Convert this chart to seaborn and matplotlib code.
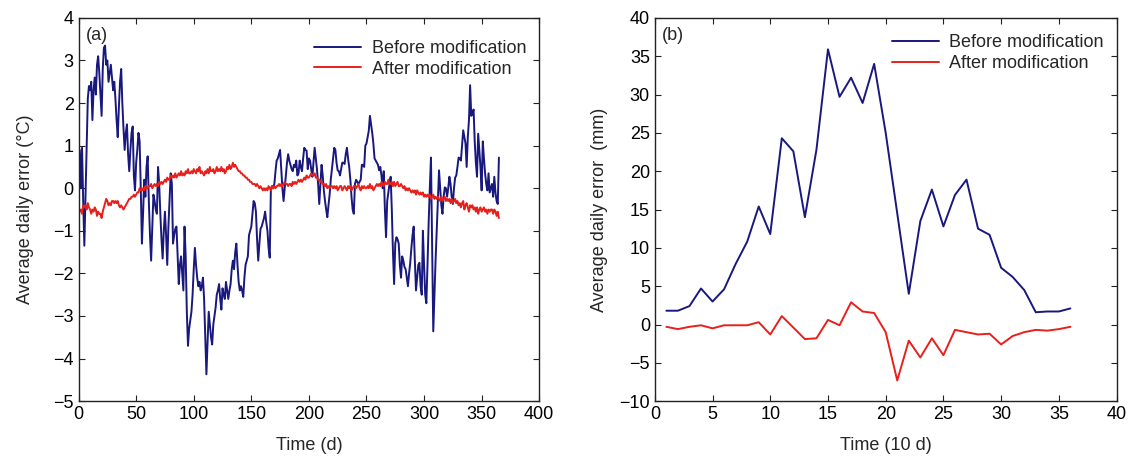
import numpy as np
import pandas as pd
import matplotlib
matplotlib.use("Agg")
import matplotlib.pyplot as plt
import seaborn as sns

# ---------------------------------------------------------------
# (a) daily temperature error, days 1..365
# ---------------------------------------------------------------
temp_before = [
    0.9, 0.0, 0.95, -0.3, -1.35, -0.2, 0.9, 2.1, 2.4, 2.3,
    2.5, 1.6, 2.3, 2.6, 2.2, 2.9, 3.1, 2.7, 2.2, 1.7,
    2.8, 3.3, 3.35, 2.9, 3.0, 2.5, 2.7, 2.9, 2.6, 2.3,
    2.5, 2.1, 1.6, 1.2, 1.9, 2.5, 2.8, 2.0, 1.4, 0.9,
    1.3, 1.5, 0.8, 0.4, 0.9, 1.3, 1.45, 0.3, -0.05, 0.6,
    0.9, 1.3, 1.1, 0.0, -1.3, -0.6, 0.2, -0.2, 0.5, 0.75,
    -0.3, -1.1, -1.7, -0.9, -0.15, -0.3, -0.5, -0.6, 0.5, 0.1,
    -0.6, -1.2, -1.65, -1.0, -0.55, -1.1, -1.8, -0.9, -0.3, 0.35,
    0.1, -1.3, -1.1, -0.95, -0.9, -1.6, -2.25, -1.8, -1.6, -2.0,
    -2.4, -0.9, -1.6, -2.9, -3.7, -3.3, -3.1, -2.9, -2.5, -1.9,
    -1.4, -1.8, -2.1, -2.3, -2.2, -2.4, -2.3, -2.1, -2.6, -3.5,
    -4.37, -3.6, -2.9, -3.2, -3.5, -3.67, -3.2, -3.0, -2.8, -2.5,
    -2.4, -2.25, -2.6, -2.85, -2.35, -2.5, -2.6, -2.2, -2.4, -2.6,
    -2.4, -2.25, -1.9, -1.7, -1.9, -1.5, -1.3, -1.8, -2.2, -2.4,
    -2.3, -2.4, -2.55, -2.1, -1.8, -1.7, -1.6, -1.1, -1.0, -0.9,
    -0.6, -0.3, -0.35, -0.55, -1.2, -1.7, -1.3, -0.95, -0.9, -0.8,
    -0.7, -0.55, -0.8, -1.0, -1.4, -1.63, 0.0, 0.05, 0.0, 0.1,
    0.4, 0.65, 0.7, 0.8, 0.9, 0.45, 0.0, -0.3, 0.0, 0.3,
    0.6, 0.8, 0.65, 0.55, 0.45, 0.4, 0.55, 0.5, 0.65, 0.3,
    0.35, 0.65, 0.5, 0.4, 0.7, 0.95, 0.9, 0.88, 0.45, 0.7,
    0.65, 0.45, 0.27, 0.6, 0.95, 0.7, 0.45, 0.1, -0.37, 0.1,
    0.55, 0.3, -0.05, -0.3, -0.5, -0.68, -0.4, -0.15, 0.2, 0.45,
    0.7, 0.95, 0.9, 0.6, 0.42, 0.4, 0.3, 0.45, 0.6, 0.6,
    0.57, 0.8, 0.95, 0.7, 0.5, 0.2, -0.2, -0.5, -0.6, 0.1,
    0.2, 0.15, 0.1, 0.15, 0.2, 0.55, 0.55, 0.5, 1.0, 1.05,
    1.2, 1.35, 1.7, 1.5, 1.3, 1.05, 0.7, 0.65, 0.6, 0.55,
    0.42, 0.5, 0.3, 0.0, 0.4, -0.5, -1.15, -0.3, -0.1, 0.1,
    0.27, -0.5, -1.5, -2.25, -1.3, -1.15, -1.2, -1.3, -1.8, -2.1,
    -1.6, -1.7, -1.85, -1.9, -2.1, -2.3, -2.0, -1.75, -1.4, -1.1,
    -0.9, -1.7, -2.4, -2.1, -1.8, -1.75, -2.3, -2.5, -1.0, -1.8,
    -2.5, -2.7, -1.8, -0.8, 0.0, 0.72, -1.4, -3.36, -2.5, -1.7,
    -1.0, -0.3, 0.42, 0.0, -0.4, -0.6, -0.2, 0.02, 0.0, -0.2,
    0.0, 0.27, 0.1, -0.2, -0.37, 0.0, 0.25, 0.3, 0.5, 0.72,
    0.7, 0.65, 1.0, 1.36, 1.2, 1.05, 0.5, 1.2, 1.6, 2.42,
    1.7, 1.75, 1.85, 1.1, 0.6, 0.27, 1.28, 0.9, 0.5, -0.05,
    1.1, 0.7, 0.35, 0.1, -0.05, 0.35, -0.1, 0.0, 0.1, -0.2,
    0.27, -0.1, -0.3, -0.37, 0.72,
]
temp_after = [
    -0.55, -0.5, -0.6, -0.4, -0.45, -0.4, -0.5, -0.35, -0.45, -0.5,
    -0.6, -0.5, -0.55, -0.45, -0.5, -0.65, -0.55, -0.6, -0.6, -0.7,
    -0.55, -0.45, -0.35, -0.25, -0.3, -0.4, -0.35, -0.4, -0.3, -0.3,
    -0.35, -0.3, -0.35, -0.3, -0.4, -0.45, -0.4, -0.45, -0.5, -0.45,
    -0.4, -0.35, -0.3, -0.25, -0.25, -0.2, -0.2, -0.15, -0.2, -0.15,
    -0.1, -0.1, 0.0, -0.05, -0.05, 0.0, -0.05, 0.05, 0.0, 0.0,
    0.05, 0.05, 0.1, 0.0, 0.05, 0.1, 0.05, 0.1, 0.05, 0.15,
    0.1, 0.15, 0.1, 0.15, 0.2, 0.15, 0.25, 0.2, 0.2, 0.3,
    0.25, 0.3, 0.25, 0.35, 0.25, 0.3, 0.35, 0.3, 0.4, 0.3,
    0.35, 0.3, 0.4, 0.35, 0.45, 0.35, 0.35, 0.4, 0.35, 0.45,
    0.4, 0.35, 0.45, 0.4, 0.5, 0.35, 0.4, 0.35, 0.3, 0.4,
    0.35, 0.45, 0.35, 0.5, 0.4, 0.4, 0.45, 0.35, 0.4, 0.5,
    0.4, 0.45, 0.4, 0.5, 0.4, 0.45, 0.35, 0.4, 0.5, 0.45,
    0.55, 0.45, 0.5, 0.6, 0.5, 0.55, 0.5, 0.45, 0.4, 0.4,
    0.35, 0.35, 0.3, 0.3, 0.25, 0.25, 0.2, 0.2, 0.15, 0.15,
    0.1, 0.1, 0.1, 0.05, 0.1, 0.05, 0.0, 0.05, 0.0, -0.05,
    0.0, -0.05, 0.0, -0.05, 0.05, 0.0, -0.05, 0.05, 0.0, 0.05,
    0.0, 0.05, 0.05, 0.1, 0.05, 0.1, 0.05, 0.1, 0.15, 0.1,
    0.1, 0.05, 0.1, 0.1, 0.05, 0.15, 0.1, 0.15, 0.1, 0.15,
    0.2, 0.15, 0.2, 0.15, 0.2, 0.25, 0.2, 0.3, 0.25, 0.25,
    0.3, 0.35, 0.3, 0.3, 0.35, 0.25, 0.25, 0.2, 0.2, 0.15,
    0.15, 0.1, 0.1, 0.05, 0.1, 0.0, 0.05, 0.0, 0.05, 0.05,
    0.0, 0.05, 0.0, 0.05, -0.05, 0.0, 0.05, 0.05, -0.05, 0.0,
    0.05, 0.0, -0.05, 0.05, 0.0, 0.05, -0.05, 0.0, 0.05, 0.05,
    0.0, 0.05, 0.1, 0.0, -0.05, 0.05, 0.0, 0.05, 0.0, 0.0,
    0.05, 0.0, 0.1, 0.0, 0.05, -0.05, 0.0, 0.05, 0.1, 0.05,
    0.1, 0.05, 0.15, 0.1, 0.05, 0.15, 0.1, 0.1, 0.2, 0.1,
    0.1, 0.15, 0.05, 0.15, 0.05, 0.1, 0.15, 0.05, 0.05, 0.1,
    0.05, 0.0, 0.05, -0.05, 0.0, -0.05, 0.0, -0.05, -0.1, -0.05,
    -0.1, -0.05, -0.15, -0.05, -0.1, -0.15, -0.1, -0.15, -0.1, -0.2,
    -0.15, -0.2, -0.15, -0.2, -0.15, -0.25, -0.2, -0.15, -0.25, -0.2,
    -0.25, -0.2, -0.25, -0.3, -0.2, -0.3, -0.25, -0.2, -0.3, -0.25,
    -0.3, -0.25, -0.35, -0.25, -0.35, -0.3, -0.25, -0.35, -0.3, -0.4,
    -0.35, -0.45, -0.35, -0.3, -0.5, -0.4, -0.35, -0.45, -0.55, -0.4,
    -0.45, -0.4, -0.5, -0.45, -0.55, -0.45, -0.6, -0.5, -0.45, -0.55,
    -0.5, -0.45, -0.55, -0.5, -0.6, -0.5, -0.55, -0.5, -0.5, -0.6,
    -0.5, -0.55, -0.65, -0.55, -0.7,
]
days = list(range(1, len(temp_before) + 1))

# ---------------------------------------------------------------
# (b) 10-day precipitation error, periods 1..36
# ---------------------------------------------------------------
periods = list(range(1, 37))
prec_before = [1.8, 1.8, 2.4, 4.7, 3.0, 4.6, 7.9, 10.8, 15.4, 11.8,
               24.3, 22.6, 14.0, 22.8, 35.9, 29.7, 32.2, 28.9, 34.0, 25.0,
               14.5, 4.0, 13.5, 17.6, 12.8, 16.9, 18.9, 12.5, 11.7, 7.4,
               6.2, 4.5, 1.6, 1.7, 1.7, 2.1]
prec_after = [-0.3, -0.6, -0.3, -0.1, -0.5, -0.1, -0.1, -0.1, 0.3, -1.3,
              1.1, -0.4, -1.9, -1.8, 0.6, -0.1, 2.9, 1.7, 1.5, -1.0,
              -7.3, -2.1, -4.3, -1.8, -4.0, -0.7, -1.0, -1.3, -1.2, -2.6,
              -1.5, -1.0, -0.7, -0.8, -0.6, -0.3]

BLUE = "#18187e"
RED = "#e8201c"

sns.set_style("ticks")
plt.rcParams["font.family"] = ["Liberation Sans", "DejaVu Sans"]
plt.rcParams["xtick.direction"] = "in"
plt.rcParams["ytick.direction"] = "in"
plt.rcParams["xtick.top"] = True
plt.rcParams["ytick.right"] = True
plt.rcParams["axes.edgecolor"] = "#222222"
plt.rcParams["axes.linewidth"] = 1.0

df_a = pd.DataFrame({
    "day": days * 2,
    "err": temp_before + temp_after,
    "kind": ["Before modification"] * len(days) + ["After modification"] * len(days),
})
df_b = pd.DataFrame({
    "t": periods * 2,
    "err": prec_before + prec_after,
    "kind": ["Before modification"] * len(periods) + ["After modification"] * len(periods),
})
pal = {"Before modification": BLUE, "After modification": RED}

fig = plt.figure(figsize=(11.29, 4.59), dpi=100)
ax1 = fig.add_axes([0.0696, 0.126, 0.408, 0.835])
ax2 = fig.add_axes([0.580, 0.126, 0.409, 0.835])

sns.lineplot(data=df_a, x="day", y="err", hue="kind", palette=pal, ax=ax1, linewidth=1.4)
sns.lineplot(data=df_b, x="t", y="err", hue="kind", palette=pal, ax=ax2, linewidth=1.4)

ax1.set_xlim(0, 400)
ax1.set_ylim(-5, 4)
ax1.set_xticks(range(0, 401, 50))
ax1.set_yticks(range(-5, 5))
ax1.set_xlabel("Time (d)", fontsize=13, labelpad=10)
ax1.set_ylabel("Average daily error (°C)", fontsize=13, labelpad=14)
ax1.text(0.016, 0.975, "(a)", transform=ax1.transAxes, ha="left", va="top", fontsize=13)

ax2.set_xlim(0, 40)
ax2.set_ylim(-10, 40)
ax2.set_xticks(range(0, 41, 5))
ax2.set_yticks(range(-10, 41, 5))
ax2.set_xlabel("Time (10 d)", fontsize=13, labelpad=10)
ax2.set_ylabel("Average daily error  (mm)", fontsize=13, labelpad=8)
ax2.text(0.016, 0.975, "(b)", transform=ax2.transAxes, ha="left", va="top", fontsize=13)

for ax, anchor in ((ax1, (1.0, 0.975)), (ax2, (1.0, 0.99))):
    ax.tick_params(labelsize=13, length=4, width=0.8, colors="#222222", labelcolor="black")
    leg = ax.legend(loc="upper right", bbox_to_anchor=anchor, frameon=False, fontsize=13,
                    handlelength=2.6, borderaxespad=0.3, labelspacing=0.2, handletextpad=0.6)
    for line in leg.get_lines():
        line.set_linewidth(1.4)

fig.savefig("out.png", dpi=100)
